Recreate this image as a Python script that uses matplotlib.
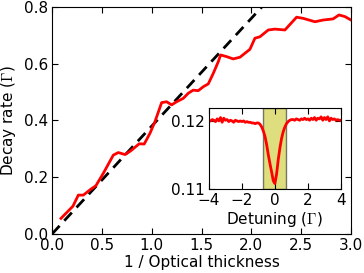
import matplotlib
matplotlib.use("Agg")
import matplotlib.pyplot as plt
import numpy as np

plt.rcParams['mathtext.fontset'] = 'cm'
plt.rcParams['font.family'] = ['DejaVu Sans']
plt.rcParams['font.size'] = 11

# Main curve: decay rate vs 1/optical thickness
inv_od = [0.09, 0.21, 0.264, 0.314, 0.39, 0.44, 0.515, 0.615, 0.665, 0.732, 0.79,
          0.875, 0.925, 0.983, 1.033, 1.10, 1.15, 1.20, 1.25, 1.317, 1.367, 1.417,
          1.467, 1.518, 1.568, 1.618, 1.668, 1.692, 1.752, 1.818, 1.886, 1.936,
          1.986, 2.036, 2.086, 2.17, 2.237, 2.337, 2.454, 2.52, 2.638, 2.72, 2.82,
          2.88, 2.94, 3.0]
decay = [0.055, 0.098, 0.137, 0.137, 0.158, 0.170, 0.214, 0.278, 0.287, 0.280, 0.293,
         0.318, 0.317, 0.355, 0.396, 0.463, 0.466, 0.455, 0.466, 0.478, 0.496, 0.507,
         0.505, 0.519, 0.529, 0.566, 0.607, 0.631, 0.625, 0.617, 0.623, 0.637,
         0.651, 0.690, 0.695, 0.719, 0.722, 0.719, 0.764, 0.760, 0.748, 0.754, 0.758,
         0.772, 0.766, 0.754]

# Theory (dashed) line endpoints
theory_x = [0.0, 2.2]
theory_y = [0.0, 0.836]

# Inset: spectrum vs detuning
inset_vals = [
    0.1201, 0.1200, 0.1202, 0.1201, 0.1199, 0.1203, 0.1200, 0.1205, 0.1198, 0.1204,
    0.1201, 0.1202, 0.1199, 0.1201, 0.1200, 0.1198, 0.1201, 0.1200, 0.1199, 0.1200,
    0.1199, 0.1200, 0.1198, 0.1199, 0.1198, 0.1198, 0.1197, 0.1197, 0.1196, 0.1197,
    0.1197, 0.1195, 0.1191, 0.1185, 0.1177, 0.1165, 0.1150, 0.1137, 0.1125, 0.1112,
    0.1108, 0.1122, 0.1143, 0.1160, 0.1174, 0.1184, 0.1191, 0.1196, 0.1199, 0.1201,
    0.1202, 0.1202, 0.1201, 0.1203, 0.1202, 0.1201, 0.1203, 0.1202, 0.1204, 0.1202,
    0.1203, 0.1201, 0.1204, 0.1202, 0.1205, 0.1201, 0.1204, 0.1203, 0.1206, 0.1201,
    0.1205, 0.1202, 0.1206, 0.1200, 0.1204, 0.1202, 0.1203, 0.1201, 0.1202, 0.1201,
    0.1201]
detuning = np.linspace(-4, 4, len(inset_vals))
band = [-0.7, 0.7]

fig = plt.figure(figsize=(3.64, 2.73), dpi=100)
ax = fig.add_axes([0.1429, 0.1429, 0.8214, 0.8315])
ax.plot(theory_x, theory_y, color='k', lw=2, ls=(0, (4, 2.5)))
ax.plot(inv_od, decay, color='red', lw=2)
ax.set_xlim(0, 3)
ax.set_ylim(0, 0.8)
ax.set_xticks([0.0, 0.5, 1.0, 1.5, 2.0, 2.5, 3.0])
ax.set_yticks([0.0, 0.2, 0.4, 0.6, 0.8])
ax.tick_params(direction='in', top=True, right=True, length=4, pad=3)
ax.set_xlabel('1 / Optical thickness', labelpad=1)
ax.set_ylabel(r'Decay rate ($\Gamma$)', labelpad=4)

ins = fig.add_axes([0.574, 0.3077, 0.3626, 0.2967])
ins.axvspan(band[0], band[1], facecolor='y', edgecolor='k', alpha=0.5)
ins.plot(detuning, inset_vals, color='red', lw=2)
ins.set_xlim(-4, 4)
ins.set_ylim(0.11, 0.1219)
ins.set_xticks([-4, -2, 0, 2, 4])
ins.set_yticks([0.11, 0.12])
ins.set_yticklabels(['0.11', '0.12'])
ins.tick_params(direction='in', top=True, right=True, length=4, pad=3)
ins.set_xlabel(r'Detuning ($\Gamma$)', labelpad=1)

fig.savefig('out.png', dpi=100)
